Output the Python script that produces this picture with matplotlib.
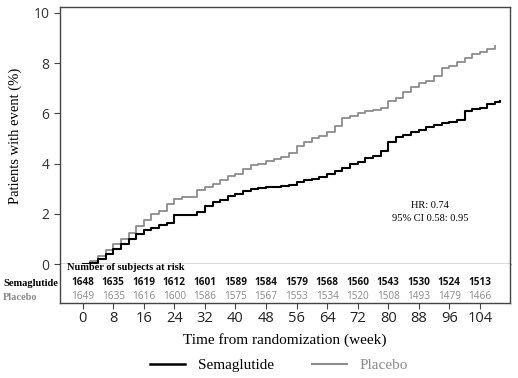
import matplotlib
matplotlib.use("Agg")
import matplotlib.pyplot as plt
from matplotlib.lines import Line2D

weeks = [0, 2, 4, 6, 8, 10, 12, 14, 16, 18, 20, 22, 24, 26, 28, 30, 32, 34, 36, 38,
         40, 42, 44, 46, 48, 50, 52, 54, 56, 58, 60, 62, 64, 66, 68, 70, 72, 74, 76, 78,
         80, 82, 84, 86, 88, 90, 92, 94, 96, 98, 100, 102, 104, 106, 108]
sema = [0, 0.05, 0.2, 0.4, 0.6, 0.8, 1.0, 1.2, 1.35, 1.45, 1.55, 1.65, 1.95, 1.97, 1.97,
        2.05, 2.3, 2.45, 2.55, 2.7, 2.8, 2.9, 2.98, 3.02, 3.05, 3.07, 3.1, 3.15, 3.25, 3.33,
        3.4, 3.48, 3.58, 3.7, 3.82, 4.0, 4.08, 4.2, 4.3, 4.5, 4.85, 5.05, 5.12, 5.25, 5.35,
        5.45, 5.55, 5.6, 5.65, 5.75, 6.1, 6.15, 6.22, 6.35, 6.45]
sema_end = (109.3, 6.5)
placebo = [0, 0.1, 0.3, 0.55, 0.8, 1.0, 1.25, 1.5, 1.75, 2.0, 2.1, 2.4, 2.6, 2.65, 2.65,
           2.95, 3.05, 3.2, 3.35, 3.5, 3.6, 3.8, 3.95, 4.0, 4.1, 4.18, 4.25, 4.4, 4.7, 4.85,
           5.0, 5.1, 5.25, 5.5, 5.8, 5.9, 6.0, 6.08, 6.12, 6.2, 6.5, 6.6, 6.85, 7.05, 7.2,
           7.3, 7.5, 7.8, 7.9, 8.05, 8.2, 8.35, 8.45, 8.55, 8.68]

risk_weeks = [0, 8, 16, 24, 32, 40, 48, 56, 64, 72, 80, 88, 96, 104]
risk_sema = [1648, 1635, 1619, 1612, 1601, 1589, 1584, 1579, 1568, 1560, 1543, 1530, 1524, 1513]
risk_placebo = [1649, 1635, 1616, 1600, 1586, 1575, 1567, 1553, 1534, 1520, 1508, 1493, 1479, 1466]
y_ticks = [0, 2, 4, 6, 8, 10]

SERIF = "Liberation Serif"
SANS = "Open Sans"
FRAME = "#444444"
GRAY = "#8c8c8c"

fig = plt.figure(figsize=(5.18, 3.78), dpi=100)
W, H = 518, 378
left, right = 60 / W, 510 / W
ax = fig.add_axes([left, 1 - 264 / H, right - left, (264 - 7) / H])
axr = fig.add_axes([left, 1 - 303 / H, right - left, (303 - 264) / H])

xlim = (-5.94, 111.9)
ax.plot(weeks, placebo, drawstyle="steps-post", color=GRAY, lw=1.3)
ax.plot(weeks + [sema_end[0]], sema + [sema_end[1]], drawstyle="steps-post", color="black", lw=1.5)
ax.set_xlim(*xlim)
ax.set_ylim(0, 10.23)
ax.set_yticks(y_ticks)
ax.set_yticklabels([str(t) for t in y_ticks], fontfamily=SANS, fontsize=10, color="#333333")
ax.set_xticks([])
ax.tick_params(axis="y", direction="out", length=4, color=FRAME, width=0.8)
for s in ax.spines.values():
    s.set_color(FRAME)
    s.set_linewidth(1.0)
ax.set_ylabel("Patients with event (%)", fontfamily=SERIF, fontsize=10.5, labelpad=8)

ax.text(91, 2.32, "HR: 0.74", ha="center", va="center", fontfamily=SERIF, fontsize=7.5)
ax.text(91, 1.81, "95% CI 0.58: 0.95", ha="center", va="center", fontfamily=SERIF, fontsize=7.5)

axr.set_xlim(*xlim)
axr.set_ylim(0, 1)
axr.set_yticks([])
axr.set_xticks(risk_weeks)
axr.set_xticklabels([str(w) for w in risk_weeks], fontfamily=SANS, fontsize=10.5, color="#222222")
axr.tick_params(axis="x", direction="out", length=4, color=FRAME, width=0.8, pad=2)
for s in axr.spines.values():
    s.set_color(FRAME)
    s.set_linewidth(1.0)
axr.spines["top"].set_visible(False)

axr.text(-4.2, 0.9, "Number of subjects at risk", ha="left", va="center",
         fontfamily=SERIF, fontweight="bold", fontsize=7.5)
for w, a, b in zip(risk_weeks, risk_sema, risk_placebo):
    axr.text(w, 0.52, str(a), ha="center", va="center", fontfamily=SANS,
             fontweight="bold", fontsize=7.2, color="#111111")
    axr.text(w, 0.17, str(b), ha="center", va="center", fontfamily=SANS,
             fontsize=7.2, color=GRAY)
fig.text(3 / W, 1 - 283 / H, "Semaglutide", ha="left", va="center",
         fontfamily=SERIF, fontweight="bold", fontsize=7.5)
fig.text(3 / W, 1 - 297 / H, "Placebo", ha="left", va="center",
         fontfamily=SERIF, fontweight="bold", fontsize=7.5, color=GRAY)

fig.text(0.5 * (left + right), 1 - 340 / H, "Time from randomization (week)", ha="center",
         va="center", fontfamily=SERIF, fontsize=11)

handles = [Line2D([], [], color="black", lw=1.8), Line2D([], [], color=GRAY, lw=1.5)]
leg = fig.legend(handles, ["Semaglutide", "Placebo"], loc="center", ncol=2,
                 bbox_to_anchor=(0.5 * (left + right) - 6 / W, 1 - 365 / H), frameon=False,
                 prop={"family": SERIF, "size": 11}, handlelength=2.3, columnspacing=2.5)
leg.get_texts()[1].set_color(GRAY)

fig.savefig("out.png", dpi=100)
